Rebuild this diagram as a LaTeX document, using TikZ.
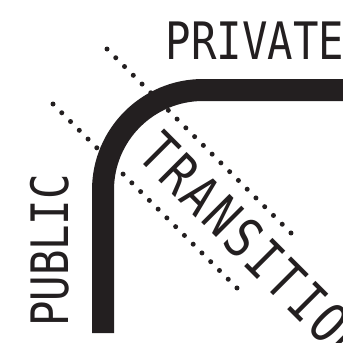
\documentclass[tikz,border=0pt]{standalone}
\usepackage{fontspec}
\newfontfamily\signfont[FakeStretch=0.82]{DejaVu Sans Mono}
\definecolor{ink}{HTML}{231F20}

\begin{document}
\begin{tikzpicture}[x=1pt, y=-1pt,
  lbl/.style={inner sep=0pt, text=ink, font=\signfont\fontsize{51.6}{60}\selectfont},
  wall/.style={draw=ink, line width=22pt, rounded corners=100pt},
  edge/.style={draw=ink, line width=5pt, line cap=round,
               dash pattern=on 0pt off 12.39pt}]

\clip (0,0) rectangle (343,343);

% the thick boundary and its two dotted offsets
\coordinate (foot)   at (103,333);
\coordinate (bend)   at (103,90);
\coordinate (reach)  at (360,90);
\draw[wall] (foot) -- (bend) -- (reach);

\coordinate (outA) at (107,49);
\coordinate (outB) at (291,233);
\coordinate (inA)  at (53,104);
\coordinate (inB)  at (237,288);
\draw[edge] (outA) -- (outB);
\draw[edge] (inA) -- (inB);

% zone names
\node[lbl] (private) at (255,40.5) {PRIVATE};
\node[lbl, rotate=90] (public) at (50,250.5) {PUBLIC};
\node[lbl, rotate=-45, font=\signfont\fontsize{54.9}{60}\selectfont\addfontfeature{LetterSpace=5.5}]
  (transition) at (254.75,248.25) {TRANSITION};

\end{tikzpicture}
\end{document}
